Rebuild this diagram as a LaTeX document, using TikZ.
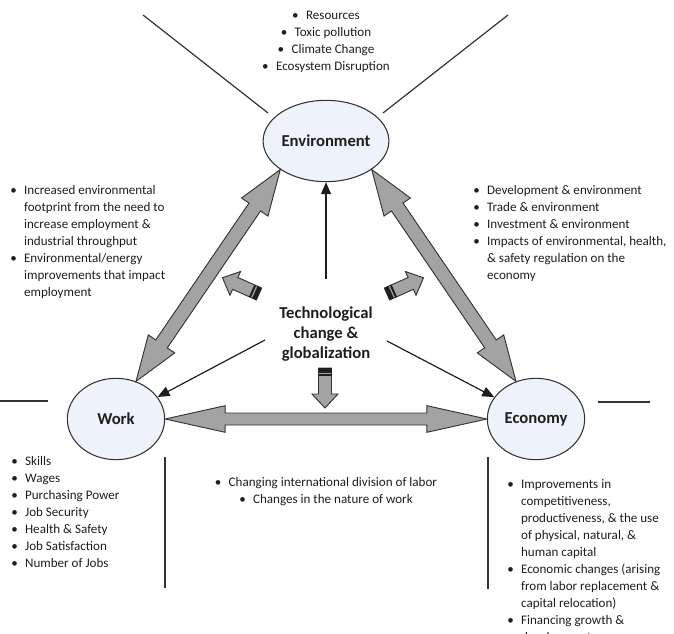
\documentclass[tikz,border=0pt]{standalone}
\usepackage{fontspec}
\setmainfont{Carlito}
\usetikzlibrary{shapes.geometric,arrows.meta,calc}

\definecolor{txt}{HTML}{1E1E1E}
\definecolor{bubble}{HTML}{EEF3FB}
\definecolor{arrgray}{HTML}{A3A3A3}
\definecolor{edge}{HTML}{333333}

\tikzset{
  sphere/.style={ellipse, draw=edge, line width=0.8pt, fill=bubble, minimum width=73pt,
    minimum height=61pt, inner sep=0pt, font=\fontsize{12.5}{15}\selectfont\bfseries, text=txt},
  listtext/.style={inner sep=0pt, font=\fontsize{9.8}{12.75}\selectfont, text=txt},
  thinarrow/.style={-{Triangle[length=9pt,width=7.5pt]}, line width=0.9pt, draw=txt},
  bigarrow/.style={draw=edge, fill=arrgray, line width=0.7pt, line join=miter},
  frame/.style={draw=edge, line width=0.9pt},
}

\newcommand{\bl}{\textbullet}
\newcommand{\blist}[1]{\begin{tabular}[t]{@{}l@{\hspace{5.5pt}}l@{}}#1\end{tabular}}
\newcommand{\clist}[1]{\begin{tabular}[t]{@{}c@{}}#1\end{tabular}}

% double block arrow: from, to, half shaft, half head, head length
\newcommand{\bigdouble}[5]{%
  \path (#1) coordinate (ba) (#2) coordinate (bb);
  \path ($(ba)!#5!(bb)$) coordinate (ha) ($(bb)!#5!(ba)$) coordinate (hb);
  \draw[bigarrow] (ba) -- ($(ha)!#4!90:(ba)$) -- ($(ha)!#3!90:(ba)$)
    -- ($(hb)!#3!-90:(bb)$) -- ($(hb)!#4!-90:(bb)$) -- (bb)
    -- ($(hb)!#4!90:(bb)$) -- ($(hb)!#3!90:(bb)$)
    -- ($(ha)!#3!-90:(ba)$) -- ($(ha)!#4!-90:(ba)$) -- cycle;}

% small striped block arrow: tail position, rotation
\newcommand{\stripearrow}[2]{%
  \begin{scope}[shift={#1}, rotate=#2]
    \draw[bigarrow] (-6.5,0) -- (-6.5,26) -- (-13,26) -- (0,40) -- (13,26) -- (6.5,26) -- (6.5,0) -- cycle;
    \fill[txt] (-6.5,0) rectangle (6.5,4.5);
    \fill[txt] (-6.5,6) rectangle (6.5,8);
  \end{scope}}

\begin{document}
\begin{tikzpicture}[x=0.75pt, y=-0.75pt]
  \clip (0,0) rectangle (674,634);

  % the three spheres
  \node[sphere] (env) at (326,141) {Environment};
  \node[sphere] (work) at (116,419) {Work};
  \node[sphere] (econ) at (536,419) {Economy};
  \node[font=\fontsize{12.5}{15}\selectfont\bfseries, text=txt, align=center] (tech) at (326,334)
    {Technological\\change \&\\globalization};

  % bracket lines
  \coordinate (tl1) at (143,15);  \coordinate (tl2) at (268,113);
  \coordinate (tr1) at (508,15);  \coordinate (tr2) at (383,113);
  \coordinate (wl1) at (0,401);   \coordinate (wl2) at (48,401);
  \coordinate (wv1) at (165,457); \coordinate (wv2) at (165,588);
  \coordinate (er1) at (598,402); \coordinate (er2) at (650,402);
  \coordinate (ev1) at (488,457); \coordinate (ev2) at (488,589);
  \draw[frame] (tl1) -- (tl2);
  \draw[frame] (tr1) -- (tr2);
  \draw[frame] (wl1) -- (wl2);
  \draw[frame] (wv1) -- (wv2);
  \draw[frame] (er1) -- (er2);
  \draw[frame] (ev1) -- (ev2);

  % big double arrows
  \bigdouble{env.212}{work.62}{5.25pt}{12pt}{34pt}
  \bigdouble{env.328}{econ.118}{5.25pt}{12pt}{34pt}
  \bigdouble{work.east}{econ.west}{4.5pt}{10pt}{45pt}

  % influence of technology
  \coordinate (up0) at (326,279);
  \coordinate (lf0) at (265,340);
  \coordinate (rt0) at (387,341);
  \draw[thinarrow] (up0) -- (env);
  \draw[thinarrow] (lf0) -- (work);
  \draw[thinarrow] (rt0) -- (econ);
  \stripearrow{(259,294)}{246}
  \stripearrow{(387,294)}{114}
  \stripearrow{(325,368)}{0}

  % lists
  \node[listtext, anchor=base] (envlist) at (326,20) {\clist{%
    \bl\hspace{5.5pt}Resources\\ \bl\hspace{5.5pt}Toxic pollution\\
    \bl\hspace{5.5pt}Climate Change\\ \bl\hspace{5.5pt}Ecosystem Disruption}};
  \node[listtext, anchor=base west] (envwork) at (10,195) {\blist{%
    \bl & Increased environmental\\ & footprint from the need to\\
    & increase employment \&\\ & industrial throughput\\
    \bl & Environmental/energy\\ & improvements that impact\\ & employment}};
  \node[listtext, anchor=base west] (enveco) at (473,195) {\blist{%
    \bl & Development \& environment\\ \bl & Trade \& environment\\
    \bl & Investment \& environment\\ \bl & Impacts of environmental, health,\\
    & \& safety regulation on the\\ & economy}};
  \node[listtext, anchor=base west] (worklist) at (11,465) {\blist{%
    \bl & Skills\\ \bl & Wages\\ \bl & Purchasing Power\\ \bl & Job Security\\
    \bl & Health \& Safety\\ \bl & Job Satisfaction\\ \bl & Number of Jobs}};
  \node[listtext, anchor=base] (workeco) at (326,486) {\clist{%
    \bl\hspace{5.5pt}Changing international division of labor\\
    \bl\hspace{5.5pt}Changes in the nature of work}};
  \node[listtext, anchor=base west] (ecolist) at (507,488) {\blist{%
    \bl & Improvements in\\ & competitiveness,\\ & productiveness, \& the use\\
    & of physical, natural, \&\\ & human capital\\
    \bl & Economic changes (arising\\ & from labor replacement \&\\ & capital relocation)\\
    \bl & Financing growth \&\\ & development}};
\end{tikzpicture}
\end{document}
